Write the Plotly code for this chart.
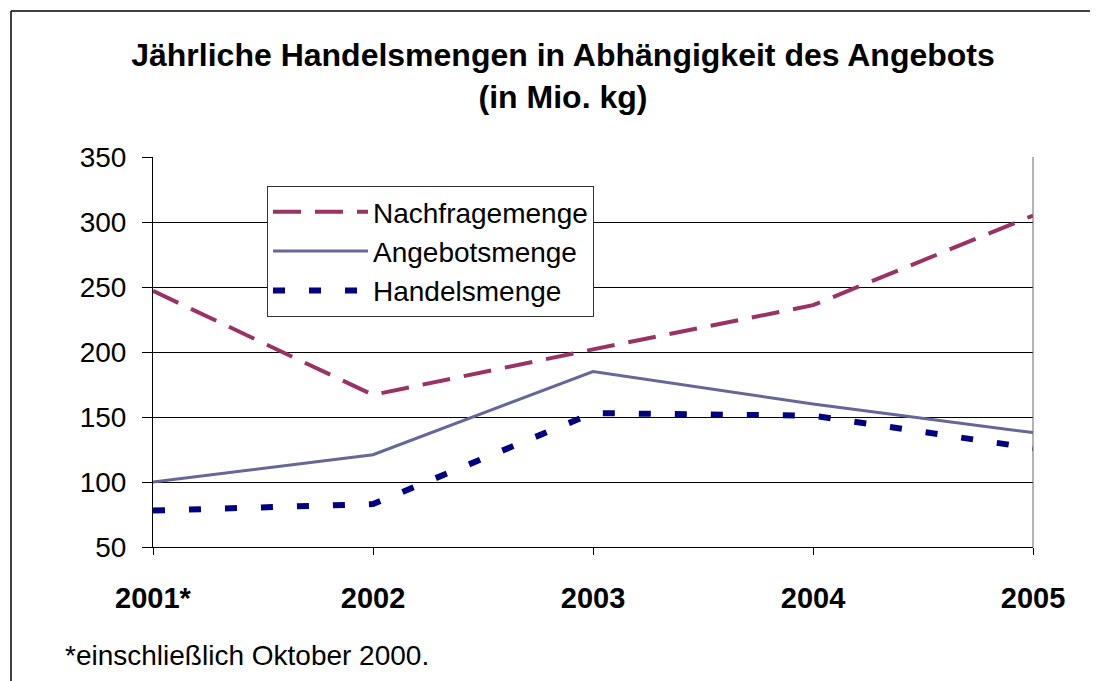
import plotly.graph_objects as go

# ── data ──────────────────────────────────────────────────────────────────
years = ["2001*", "2002", "2003", "2004", "2005"]
nachfrage = [247, 167, 202, 236, 305]
angebot = [100, 121, 185, 160, 138]
handel = [78, 83, 153, 151, 126]

y_ticks = [50, 100, 150, 200, 250, 300, 350]

# screenshot geometry (the page body adds an 8px margin)
W, H = 1098, 681
OFF = 8
L, R, T, B = 153, 1033, 157, 547
pw, ph = R - L, B - T

x = list(range(len(years)))

fig = go.Figure()
fig.add_trace(go.Scatter(
    x=x, y=nachfrage, mode="lines", name="Nachfragemenge",
    line=dict(color="#993366", width=4, dash="28px,14px"),
))
fig.add_trace(go.Scatter(
    x=x, y=angebot, mode="lines", name="Angebotsmenge",
    line=dict(color="#666699", width=3),
))
fig.add_trace(go.Scatter(
    x=x, y=handel, mode="lines", name="Handelsmenge",
    line=dict(color="#000080", width=6, dash="12px,24px"),
))


def px_x(p):
    return (p - L) / pw


def px_y(p):
    return (B - p) / ph


fw, fh = W - OFF, H - OFF

fig.update_layout(
    width=fw, height=fh,
    margin=dict(l=L - OFF, r=fw - (R - OFF), t=T - OFF, b=fh - (B - OFF)),
    paper_bgcolor="white", plot_bgcolor="white",
    font=dict(family="Liberation Sans, Arial, sans-serif", color="black"),
    title=dict(
        text="<b>Jährliche Handelsmengen in Abhängigkeit des Angebots<br>(in Mio. kg)</b>",
        x=(563 - OFF) / fw, xanchor="center", y=1 - 58 / fh, yanchor="middle",
        font=dict(size=32, color="black"),
    ),
    xaxis=dict(
        range=[0, 4], tickvals=x,
        ticktext=[f"<b>{y}</b>" for y in years],
        showgrid=False, zeroline=False,
        showline=True, linecolor="black", linewidth=1,
        ticks="outside", ticklen=7, tickcolor="black",
        tickfont=dict(size=29), ticklabelstandoff=18,
    ),
    yaxis=dict(
        range=[50, 350], tickvals=y_ticks,
        showgrid=True, gridcolor="black", gridwidth=1,
        zeroline=False,
        showline=True, linecolor="black", linewidth=1,
        ticks="outside", ticklen=10, tickcolor="black",
        tickfont=dict(size=28), ticklabelstandoff=10,
    ),
    showlegend=True,
    legend=dict(
        x=px_x(267), y=px_y(186), xanchor="left", yanchor="top",
        bgcolor="white", bordercolor="#333333", borderwidth=1,
        font=dict(size=28), itemwidth=95, tracegroupgap=0,
    ),
    shapes=[
        # right edge of plot area
        dict(type="line", xref="paper", yref="paper",
             x0=1, x1=1, y0=0, y1=1, line=dict(color="#666666", width=1)),
        # outer frame (top + left visible)
        dict(type="line", xref="paper", yref="paper",
             x0=px_x(11), x1=px_x(W + 5), y0=px_y(11), y1=px_y(11),
             line=dict(color="black", width=1.5)),
        dict(type="line", xref="paper", yref="paper",
             x0=px_x(11), x1=px_x(11), y0=px_y(11), y1=px_y(H + 5),
             line=dict(color="black", width=1.5)),
    ],
    annotations=[
        dict(text="*einschließlich Oktober 2000.", xref="paper", yref="paper",
             x=px_x(63), y=px_y(655), xanchor="left", yanchor="middle",
             showarrow=False, font=dict(size=28, color="black")),
    ],
)

fig.write_html("out.html")
